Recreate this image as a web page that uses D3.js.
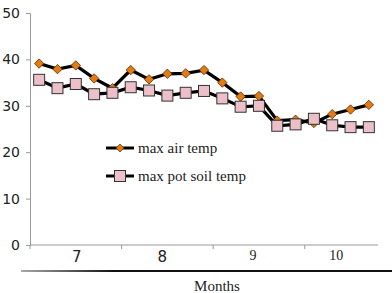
<!DOCTYPE html>
<html lang="en">
<head>
    <meta charset="UTF-8">
    <title>max air temp / max pot soil temp</title>
    <script src="https://d3js.org/d3.v7.min.js"></script>
    <style>
        body { margin: 0; background: white; }
        .tick-label { font-family: "DejaVu Sans", sans-serif; font-size: 14px; fill: #222; }
        .serif { font-family: "Liberation Serif", "Times New Roman", serif; fill: #222; }
    </style>
</head>
<body>
    <div class="svg-container"></div>
    <script>
        // data
        var months = ["7", "8", "9", "10"];
        var monthCounts = [5, 5, 5, 4];
        var airTemp = [39.1, 37.9, 38.7, 35.9, 33.8, 37.7, 35.7, 36.9, 37.0, 37.7,
                       35.0, 32.0, 32.1, 26.8, 27.0, 26.3, 28.2, 29.2, 30.2];
        var soilTemp = [35.6, 33.8, 34.7, 32.5, 32.8, 34.0, 33.3, 32.2, 32.8, 33.2,
                        31.6, 29.8, 30.0, 25.7, 26.0, 27.2, 25.8, 25.4, 25.4];
        var yTicks = [0, 10, 20, 30, 40, 50];

        var width = 392, height = 293;
        var plotLeft = 30, plotRight = 378, plotTop = 13, plotBottom = 245;

        var svg = d3.select(".svg-container").append("svg")
            .attr("width", width)
            .attr("height", height);

        var x = d3.scaleBand()
            .domain(d3.range(airTemp.length))
            .range([plotLeft, plotRight]);

        var y = d3.scaleLinear()
            .domain([0, 50])
            .range([plotBottom, plotTop]);

        // y axis
        var yAxis = svg.append("g")
            .attr("transform", "translate(" + plotLeft + ",0)")
            .call(d3.axisLeft(y).tickValues(yTicks).tickSize(4).tickPadding(6));
        yAxis.select(".domain").attr("stroke", "#999");
        yAxis.selectAll(".tick line").attr("stroke", "#999");
        yAxis.selectAll("text").attr("class", "tick-label").attr("fill", "#222");
        yAxis.attr("font-size", null).attr("font-family", null);

        // x axis with month groups
        svg.append("line")
            .attr("x1", plotLeft).attr("x2", plotRight)
            .attr("y1", plotBottom).attr("y2", plotBottom)
            .attr("stroke", "#999");

        // the first two month labels are in a sans face, the last two in serif (as in the original)
        var nudge = [1, -5, -6, -5];
        var start = 0;
        months.forEach(function(m, i) {
            var x0 = x(start);
            var x1 = x(start + monthCounts[i] - 1) + x.bandwidth();
            svg.append("line")
                .attr("x1", x0).attr("x2", x0)
                .attr("y1", plotBottom).attr("y2", plotBottom + 4)
                .attr("stroke", "#999");
            var t = svg.append("text")
                .attr("x", (x0 + x1) / 2 + nudge[i])
                .attr("text-anchor", "middle")
                .text(m);
            if (i < 2) {
                t.attr("class", "tick-label").attr("y", plotBottom + 12).style("font-size", "15px")
                    .attr("dy", "0.32em");
            } else {
                t.attr("class", "serif").attr("y", plotBottom + 15).style("font-size", "14px");
            }
            start += monthCounts[i];
        });

        // bottom rule and title
        var grad = svg.append("defs").append("linearGradient")
            .attr("id", "rule");
        grad.append("stop").attr("offset", "0%").attr("stop-color", "#aaa");
        grad.append("stop").attr("offset", "25%").attr("stop-color", "#111");
        grad.append("stop").attr("offset", "100%").attr("stop-color", "#111");
        svg.append("rect")
            .attr("x", 21).attr("y", 270)
            .attr("width", width - 21).attr("height", 2)
            .attr("fill", "url(#rule)");

        svg.append("text")
            .attr("class", "serif")
            .attr("x", 217).attr("y", 291)
            .attr("text-anchor", "middle")
            .style("font-size", "15px")
            .text("Months");

        var line = d3.line()
            .x(function(d, i) { return x(i) + x.bandwidth() / 2; })
            .y(function(d) { return y(d); });

        var diamond = d3.symbol().type(d3.symbolDiamond2).size(56);

        function drawAir(g) {
            g.append("path")
                .attr("d", diamond)
                .attr("fill", "#E37A12")
                .attr("stroke", "#5a2a00")
                .attr("stroke-width", 0.8);
        }
        function drawSoil(g) {
            g.append("rect")
                .attr("x", -5.5).attr("y", -5.5)
                .attr("width", 11).attr("height", 11)
                .attr("fill", "#EBC0C8")
                .attr("stroke", "#333")
                .attr("stroke-width", 1);
        }

        // air temp series
        svg.append("path")
            .datum(airTemp)
            .attr("d", line)
            .attr("fill", "none")
            .attr("stroke", "#000")
            .attr("stroke-width", 3.2);
        svg.selectAll(".air")
            .data(airTemp)
            .enter().append("g")
            .attr("class", "air")
            .attr("transform", function(d, i) { return "translate(" + (x(i) + x.bandwidth() / 2) + "," + y(d) + ")"; })
            .each(function() { drawAir(d3.select(this)); });

        // soil temp series
        svg.append("path")
            .datum(soilTemp)
            .attr("d", line)
            .attr("fill", "none")
            .attr("stroke", "#000")
            .attr("stroke-width", 3.2);
        svg.selectAll(".soil")
            .data(soilTemp)
            .enter().append("g")
            .attr("class", "soil")
            .attr("transform", function(d, i) { return "translate(" + (x(i) + x.bandwidth() / 2) + "," + y(d) + ")"; })
            .each(function() { drawSoil(d3.select(this)); });

        // legend
        var legend = [
            { name: "max air temp", draw: drawAir },
            { name: "max pot soil temp", draw: drawSoil }
        ];
        legend.forEach(function(item, i) {
            var ly = 148 + i * 28;
            svg.append("line")
                .attr("x1", 106).attr("x2", 134)
                .attr("y1", ly).attr("y2", ly)
                .attr("stroke", "#000")
                .attr("stroke-width", 3);
            var g = svg.append("g").attr("transform", "translate(120," + ly + ")");
            item.draw(g);
            if (i === 0) g.attr("transform", "translate(120," + ly + ") scale(0.85)");
            svg.append("text")
                .attr("class", "serif")
                .attr("x", 138).attr("y", ly + 5)
                .style("font-size", "15px")
                .text(item.name);
        });
    </script>
</body>
</html>
